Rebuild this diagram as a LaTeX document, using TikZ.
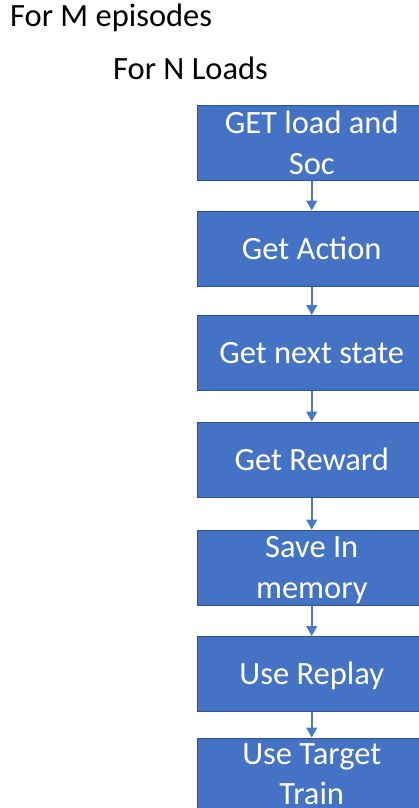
\documentclass[tikz,border=0pt]{standalone}
\usepackage{fontspec}
\setmainfont{Carlito}
\usetikzlibrary{arrows.meta,calc}
\definecolor{boxfill}{HTML}{4472C4}
\definecolor{boxline}{HTML}{2F528F}
\definecolor{arrowc}{HTML}{4A78C8}
\tikzset{
  box/.style={rectangle, draw=boxline, line width=1pt, fill=boxfill,
    minimum width=228.5pt, minimum height=75pt, inner sep=0pt},
  boxtext/.style={anchor=base, text=white, inner sep=0pt,
    font=\fontsize{32.5}{40}\selectfont},
  plaintext/.style={anchor=base west, text=black, inner sep=0pt,
    font=\fontsize{32.5}{40}\selectfont},
  flow/.style={draw=arrowc, line width=1.5pt,
    -{Triangle[width=11pt,length=10pt]}},
}
\begin{document}
\begin{tikzpicture}[x=1pt,y=-1pt]
\useasboundingbox (0,0) rectangle (419,808);
\clip (0,0) rectangle (419,808);
\node[plaintext] (t1) at (10,27) {For M episodes};
\node[plaintext] (t2) at (113,79) {For N Loads};
\node[box] (b1) at (311.75,143) {};
\node[box] (b2) at (311.75,248.5) {};
\node[box] (b3) at (311.75,353) {};
\node[box] (b4) at (311.75,459.5) {};
\node[box] (b5) at (311.75,567.5) {};
\node[box] (b6) at (311.75,674) {};
\node[box] (b7) at (311.75,775.5) {};
\node[boxtext] (l1a) at ($(b1.center)+(0,-10)$) {GET load and};
\node[boxtext] (l1b) at ($(b1.center)+(0,31)$) {Soc};
\node[boxtext] (l2) at ($(b2.center)+(0,10.5)$) {Get Action};
\node[boxtext] (l3) at ($(b3.center)+(0,10.5)$) {Get next state};
\node[boxtext] (l4) at ($(b4.center)+(0,10.5)$) {Get Reward};
\node[boxtext] (l5a) at ($(b5.center)+(0,-10)$) {Save In};
\node[boxtext] (l5b) at ($(b5.center)+(0,31)$) {memory};
\node[boxtext] (l6) at ($(b6.center)+(0,10.5)$) {Use Replay};
\node[boxtext] (l7a) at ($(b7.center)+(0,-11)$) {Use Target};
\node[boxtext] (l7b) at ($(b7.center)+(0,28.5)$) {Train};
\draw[flow] (b1.south) -- (b2.north);
\draw[flow] (b2.south) -- (b3.north);
\draw[flow] (b3.south) -- (b4.north);
\draw[flow] (b4.south) -- (b5.north);
\draw[flow] (b5.south) -- (b6.north);
\draw[flow] (b6.south) -- (b7.north);
\end{tikzpicture}
\end{document}
